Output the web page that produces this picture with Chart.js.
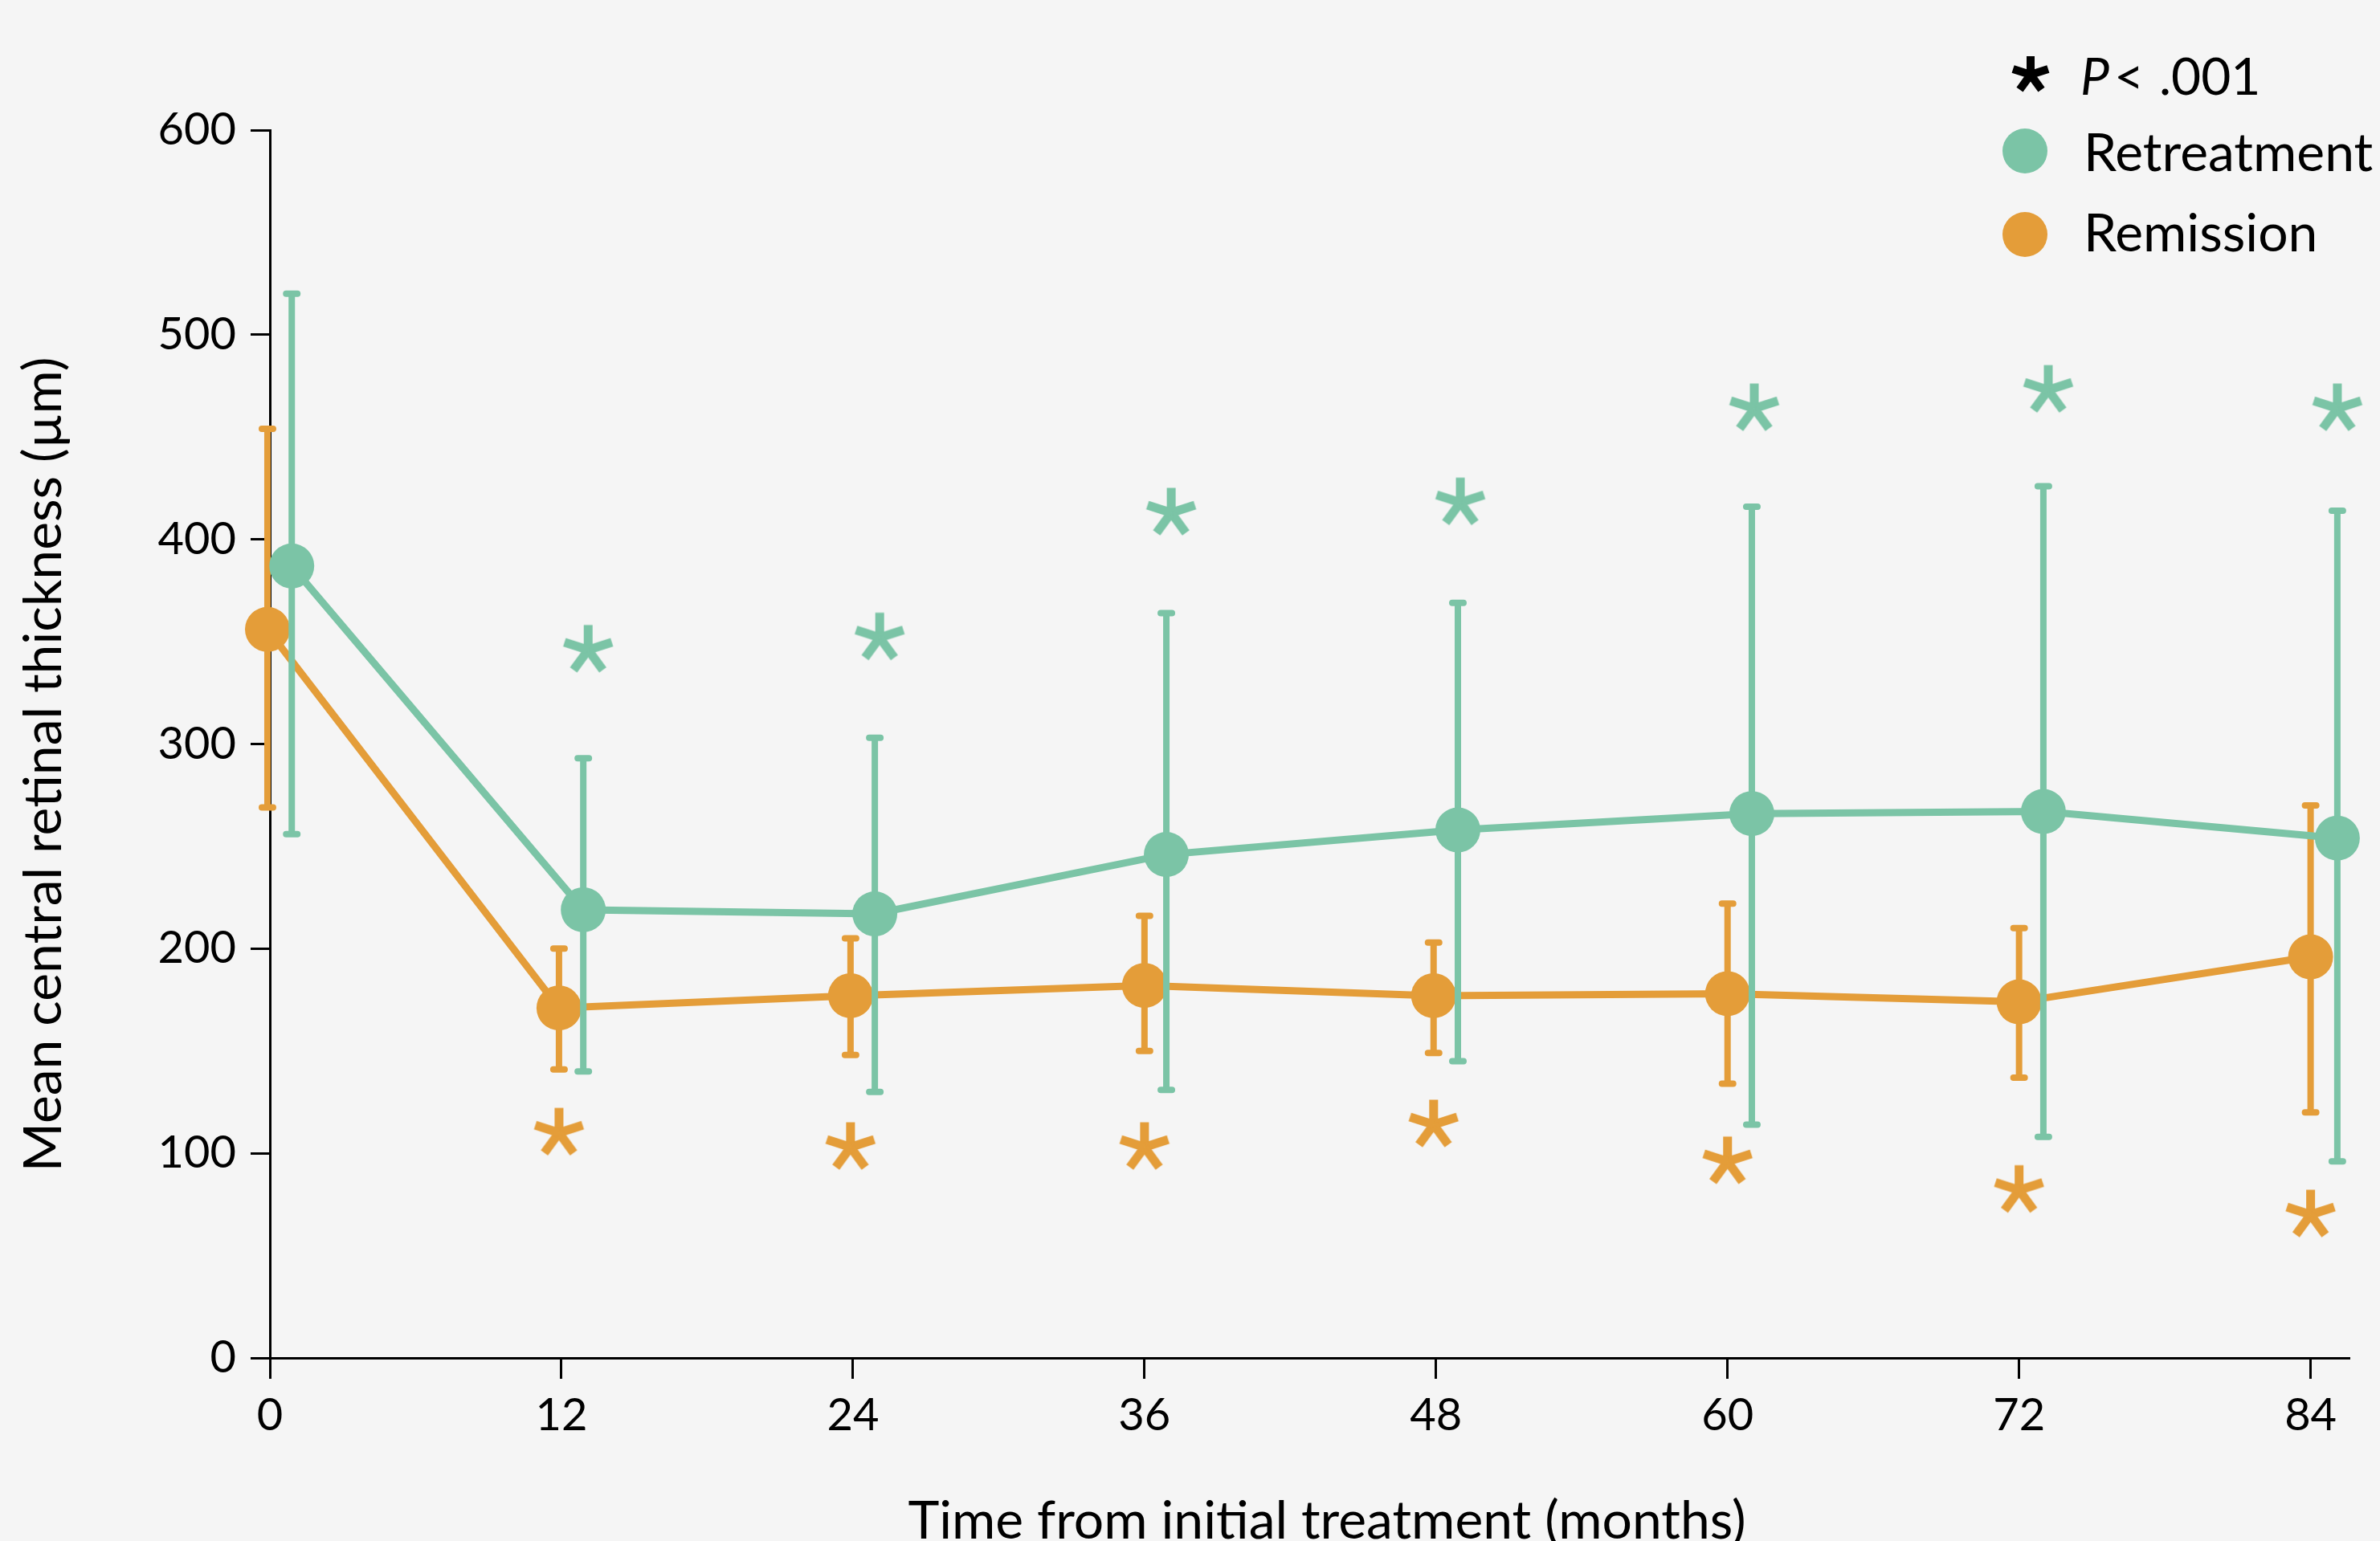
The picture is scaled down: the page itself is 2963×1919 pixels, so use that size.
<!DOCTYPE html>
<html>
<head>
<meta charset="utf-8">
<script src="https://cdn.jsdelivr.net/npm/chart.js@4.4.1/dist/chart.umd.min.js"></script>
<style>
  html, body { margin: 0; padding: 0; background: #f5f5f5; }
  #chart { display: block; }
</style>
</head>
<body>
<canvas id="chart" width="2963" height="1919"></canvas>
<script>
// values
const xTicks = [0, 12, 24, 36, 48, 60, 72, 84];
const yTicks = [0, 100, 200, 300, 400, 500, 600];

const retreatMonths = [0.9, 12.9, 24.9, 36.9, 48.9, 61.0, 73.0, 85.1];
const retreatMean = [387, 219, 217, 246, 258, 266, 267, 254];
const retreatLow = [256, 140, 130, 131, 145, 114, 108, 96];
const retreatHigh = [520, 293, 303, 364, 369, 416, 426, 414];

const remissionMonths = [-0.1, 11.9, 23.9, 36.0, 47.9, 60.0, 72.0, 84.0];
const remissionMean = [356, 171, 177, 182, 177, 178, 174, 196];
const remissionLow = [269, 141, 148, 150, 149, 134, 137, 120];
const remissionHigh = [454, 200, 205, 216, 203, 222, 210, 270];

const retreatStarMonths = [13.1, 25.1, 37.1, 49.0, 61.1, 73.2, 85.1];
const retreatStarY = [346, 352, 413, 418, 464, 473, 464];
const remissionStarMonths = [11.9, 23.9, 36.0, 47.9, 60.0, 72.0, 84.0];
const remissionStarY = [110, 103, 103, 114, 96, 82, 70];

const xTitle = "Time from initial treatment (months)";
const yTitle = "Mean central retinal thickness (µm)";

const GREEN = "#7bc4a6";
const ORANGE = "#e49d39";
const FONT = "Lato, 'Noto Sans', sans-serif";

const toPoints = (xs, ys) => xs.map((x, i) => ({ x: x, y: ys[i] }));

// five armed asterisk used as a point style
const makeAsterisk = (color, r, lw) => {
	const size = Math.ceil(2 * r + lw + 4);
	const c = document.createElement("canvas");
	c.width = size;
	c.height = size;
	const g = c.getContext("2d");
	g.strokeStyle = color;
	g.lineWidth = lw;
	g.lineCap = "butt";
	for (let k = 0; k < 5; k++) {
		const a = -Math.PI / 2 + (k * 2 * Math.PI) / 5;
		g.beginPath();
		g.moveTo(size / 2, size / 2);
		g.lineTo(size / 2 + r * Math.cos(a), size / 2 + r * Math.sin(a));
		g.stroke();
	}
	return c;
};

const greenStar = makeAsterisk(GREEN, 31, 11);
const orangeStar = makeAsterisk(ORANGE, 31, 11);
const blackStar = makeAsterisk("#000", 23, 10);

// error bars, drawn just before each dataset so stacking follows dataset order
const errorBars = {
	id: "errorBars",
	beforeDatasetDraw(chart, args) {
		const ds = chart.data.datasets[args.index];
		if (!ds.errLow) return;
		const { ctx } = chart;
		const x = chart.scales.x;
		const y = chart.scales.y;
		ctx.save();
		ctx.strokeStyle = ds.borderColor;
		ctx.lineWidth = 8;
		ds.data.forEach((p, j) => {
			const px = x.getPixelForValue(p.x);
			const top = y.getPixelForValue(ds.errHigh[j]);
			const bot = y.getPixelForValue(ds.errLow[j]);
			ctx.lineCap = "butt";
			ctx.beginPath();
			ctx.moveTo(px, top);
			ctx.lineTo(px, bot);
			ctx.stroke();
			ctx.lineCap = "round";
			ctx.beginPath();
			ctx.moveTo(px - 7, top);
			ctx.lineTo(px + 7, top);
			ctx.moveTo(px - 7, bot);
			ctx.lineTo(px + 7, bot);
			ctx.stroke();
		});
		ctx.restore();
	},
};

// axis titles and the legend in the top right corner
const annotations = {
	id: "annotations",
	afterDraw(chart) {
		const { ctx } = chart;
		ctx.save();
		ctx.fillStyle = "#000";
		ctx.font = "66px " + FONT;
		ctx.textAlign = "center";
		ctx.textBaseline = "middle";
		ctx.fillText(xTitle, 1652, 1895);
		ctx.save();
		ctx.translate(55, 952);
		ctx.rotate(-Math.PI / 2);
		ctx.fillText(yTitle, 0, 0);
		ctx.restore();

		ctx.textAlign = "left";
		ctx.textBaseline = "alphabetic";
		ctx.drawImage(blackStar, 2528 - blackStar.width / 2, 93 - blackStar.height / 2);
		ctx.font = "italic 64px " + FONT;
		ctx.fillText("P", 2590, 118);
		const pw = ctx.measureText("P").width;
		ctx.font = "64px " + FONT;
		ctx.fillText("<", 2590 + pw + 6, 118);
		ctx.fillText(".001", 2688, 118);

		ctx.fillStyle = GREEN;
		ctx.beginPath();
		ctx.arc(2521, 188, 28, 0, Math.PI * 2);
		ctx.fill();
		ctx.fillStyle = ORANGE;
		ctx.beginPath();
		ctx.arc(2521, 292, 28, 0, Math.PI * 2);
		ctx.fill();

		ctx.fillStyle = "#000";
		ctx.font = "66px " + FONT;
		ctx.fillText("Retreatment", 2594, 213);
		ctx.fillText("Remission", 2594, 313);
		ctx.restore();
	},
};

const bg = {
	id: "bg",
	beforeDraw(chart) {
		const { ctx } = chart;
		ctx.save();
		ctx.fillStyle = "#f5f5f5";
		ctx.fillRect(0, 0, chart.width, chart.height);
		ctx.restore();
	},
};

const ctx = document.getElementById("chart").getContext("2d");
const chart = new Chart(ctx, {
	type: "scatter",
	data: {
		datasets: [
			{
				label: "Retreatment *",
				data: toPoints(retreatStarMonths, retreatStarY),
				pointStyle: greenStar,
				showLine: false,
				clip: false,
			},
			{
				label: "Remission *",
				data: toPoints(remissionStarMonths, remissionStarY),
				pointStyle: orangeStar,
				showLine: false,
				clip: false,
			},
			{
				label: "Retreatment",
				data: toPoints(retreatMonths, retreatMean),
				errLow: retreatLow,
				errHigh: retreatHigh,
				showLine: true,
				borderColor: GREEN,
				backgroundColor: GREEN,
				borderWidth: 9,
				pointRadius: 28,
				pointBorderWidth: 0,
				tension: 0,
				clip: false,
			},
			{
				label: "Remission",
				data: toPoints(remissionMonths, remissionMean),
				errLow: remissionLow,
				errHigh: remissionHigh,
				showLine: true,
				borderColor: ORANGE,
				backgroundColor: ORANGE,
				borderWidth: 9,
				pointRadius: 28,
				pointBorderWidth: 0,
				tension: 0,
				clip: false,
			},
		],
	},
	options: {
		responsive: false,
		animation: false,
		events: [],
		layout: { padding: { top: 162, right: 38, left: 0, bottom: 0 } },
		plugins: {
			legend: { display: false },
			tooltip: { enabled: false },
		},
		scales: {
			x: {
				type: "linear",
				min: 0,
				max: 85.6,
				afterBuildTicks: (s) => {
					s.ticks = xTicks.map((v) => ({ value: v }));
				},
				afterFit: (s) => {
					s.height = 228;
				},
				grid: {
					drawOnChartArea: false,
					drawTicks: true,
					tickLength: 26,
					color: "#000",
					tickWidth: 3,
				},
				border: { display: true, color: "#000", width: 3 },
				ticks: {
					color: "#000",
					padding: 12,
					maxRotation: 0,
					font: { family: FONT, size: 56 },
				},
			},
			y: {
				min: 0,
				max: 600,
				afterBuildTicks: (s) => {
					s.ticks = yTicks.map((v) => ({ value: v }));
				},
				afterFit: (s) => {
					s.width = 336;
				},
				grid: {
					drawOnChartArea: false,
					drawTicks: true,
					tickLength: 24,
					color: "#000",
					tickWidth: 3,
				},
				border: { display: true, color: "#000", width: 3 },
				ticks: {
					color: "#000",
					padding: 18,
					font: { family: FONT, size: 56 },
				},
			},
		},
	},
	plugins: [bg, errorBars, annotations],
});
</script>
</body>
</html>
